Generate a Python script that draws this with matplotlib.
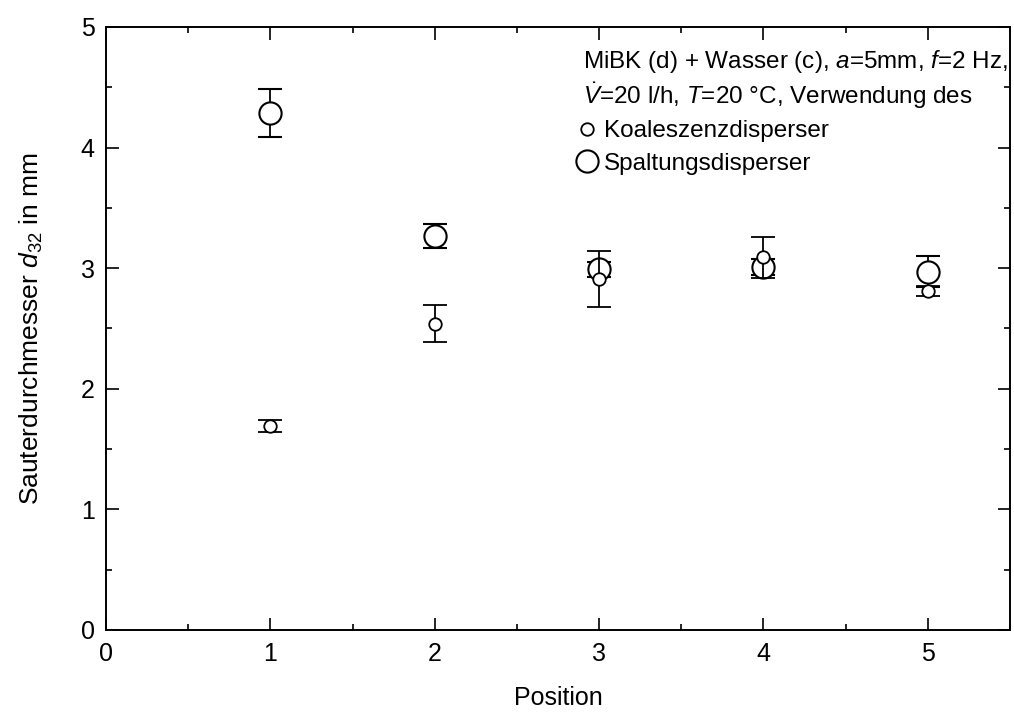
import numpy as np
import matplotlib
matplotlib.use('Agg')
import matplotlib.pyplot as plt
from matplotlib.lines import Line2D
from matplotlib.ticker import MultipleLocator

plt.rcParams['font.family'] = ['Liberation Sans', 'DejaVu Sans']
plt.rcParams['mathtext.fontset'] = 'custom'
plt.rcParams['mathtext.rm'] = 'Liberation Sans'
plt.rcParams['mathtext.it'] = 'Liberation Sans:italic'
plt.rcParams['mathtext.bf'] = 'Liberation Sans:bold'

# Sauter diameter d32 (mm) per measuring position
position = [1, 2, 3, 4, 5]
d32_koaleszenz = [1.69, 2.54, 2.91, 3.09, 2.81]
err_koaleszenz = [0.05, 0.155, 0.23, 0.17, 0.04]
d32_spaltung = [4.29, 3.27, 2.99, 3.01, 2.97]
err_spaltung = [0.20, 0.10, 0.06, 0.07, 0.13]

header = ['MiBK (d) + Wasser (c), $a$=5mm, $f$=2 Hz,',
          r'$\dot{V}$=20 l/h, $T$=20 °C, Verwendung des']
labels = ['Koaleszenzdisperser', 'Spaltungsdisperser']

fig = plt.figure(figsize=(10.14, 7.18), dpi=100)
ax = fig.add_axes([0.1045, 0.1226, 0.8915, 0.8398])

ax.errorbar(position, d32_spaltung, yerr=err_spaltung, fmt='o', ms=16,
            mfc='white', mec='black', mew=1.5, ecolor='black', elinewidth=1.3,
            capsize=8.3, capthick=1.3, zorder=2)
ax.errorbar(position, d32_koaleszenz, yerr=err_koaleszenz, fmt='o', ms=9,
            mfc='white', mec='black', mew=1.3, ecolor='black', elinewidth=1.3,
            capsize=8.3, capthick=1.3, zorder=3)

ax.set_xlim(0, 5.5)
ax.set_ylim(0, 5)
ax.xaxis.set_major_locator(MultipleLocator(1))
ax.xaxis.set_minor_locator(MultipleLocator(0.5))
ax.yaxis.set_major_locator(MultipleLocator(1))
ax.yaxis.set_minor_locator(MultipleLocator(0.5))
ax.tick_params(which='both', direction='in', top=True, right=True,
               width=1.2, labelsize=18)
ax.tick_params(which='major', length=9)
ax.tick_params(which='minor', length=4.5)
ax.tick_params(axis='x', pad=9)
ax.tick_params(axis='y', pad=8)
for s in ax.spines.values():
    s.set_linewidth(1.4)

ax.set_xlabel('Position', fontsize=18, labelpad=14)
ax.set_ylabel('Sauterdurchmesser $d_{32}$ in mm', fontsize=19, labelpad=26)

ax.text(0.528, 0.942, header[0], transform=ax.transAxes,
        fontsize=17.5, ha='left', va='center')
ax.text(0.528, 0.886, header[1], transform=ax.transAxes,
        fontsize=17.5, ha='left', va='center')

handles = [Line2D([], [], ls='none', marker='o', ms=9, mfc='white',
                  mec='black', mew=1.3),
           Line2D([], [], ls='none', marker='o', ms=16, mfc='white',
                  mec='black', mew=1.5)]
ax.legend(handles, labels, loc='center left', bbox_to_anchor=(0.5215, 0.800),
          frameon=False, fontsize=17.5, handlelength=0.8, handletextpad=0.3,
          labelspacing=0.42, borderpad=0, borderaxespad=0)

fig.savefig('out.png', dpi=100)
